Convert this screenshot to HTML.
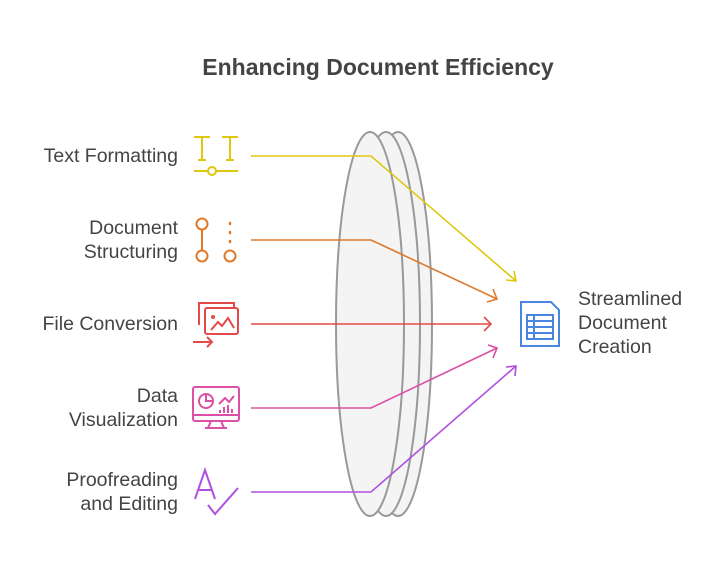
<!DOCTYPE html>
<html><head><style>
body{margin:0;background:#fff;}
svg text{font-family:"Liberation Sans",sans-serif;}
</style></head><body>
<svg width="720" height="564" viewBox="0 0 720 564" xmlns="http://www.w3.org/2000/svg">
<text x="378" y="75" text-anchor="middle" font-size="23" font-weight="bold" fill="#444">Enhancing Document Efficiency</text>
<g fill="#f4f4f4" stroke="#999" stroke-width="2">
<ellipse cx="398" cy="324" rx="34" ry="192"/>
<ellipse cx="386" cy="324" rx="34" ry="192"/>
<ellipse cx="370" cy="324" rx="34" ry="192"/>
</g>
<g fill="none" stroke-width="1.6">
<path d="M251 156H371L516 281" stroke="#e0c70f"/><path d="M506 280L516 281L514 271" stroke="#e0c70f"/>
<path d="M251 240H371L497 299" stroke="#e07a2a"/><path d="M487 302L497 299L493 289" stroke="#e07a2a"/>
<path d="M251 324H491" stroke="#e34a4a"/><path d="M484 317L491 324L484 331" stroke="#e34a4a"/>
<path d="M251 408H371L497 348" stroke="#dc4fa6"/><path d="M488 345L497 348L493 358" stroke="#dc4fa6"/>
<path d="M251 492H371L516 366" stroke="#b050e0"/><path d="M506 367L516 366L515 376" stroke="#b050e0"/>
</g>
<g font-size="19.5" fill="#444" text-anchor="end">
<text x="178" y="162">Text Formatting</text>
<text x="178" y="234">Document</text><text x="178" y="258">Structuring</text>
<text x="178" y="330">File Conversion</text>
<text x="178" y="402">Data</text><text x="178" y="426">Visualization</text>
<text x="178" y="486">Proofreading</text><text x="178" y="510">and Editing</text>
</g>
<g font-size="19.5" fill="#444">
<text x="578" y="305">Streamlined</text><text x="578" y="329">Document</text><text x="578" y="353">Creation</text>
</g>
<g fill="none" stroke="#e0c70f" stroke-width="2">
<path d="M194 137H210M202 137V160M198 160H206M222 137H238M230 137V160M226 160H234M194 171H208M216 171H238"/><circle cx="212" cy="171" r="4"/>
</g>
<g fill="none" stroke="#e07a2a" stroke-width="2">
<circle cx="202" cy="224" r="5.5"/><circle cx="202" cy="256" r="5.5"/><path d="M202 230V250"/><circle cx="230" cy="256" r="5.5"/>
<path d="M230 223v1M230 232v1M230 241v1" stroke-width="2.5" stroke-linecap="round"/>
</g>
<g fill="none" stroke="#e34a4a" stroke-width="2">
<path d="M199 325V303H234V307"/><rect x="205" y="308" width="33" height="26" rx="2"/><circle cx="213" cy="317" r="1"/>
<path d="M211 330L218 322L222 326L228 318L234 328M193 342H212M207 337L212 342L207 347"/>
</g>
<g fill="none" stroke="#dc4fa6" stroke-width="2">
<rect x="193" y="387" width="46" height="34" rx="2"/><path d="M193 415H239M211 421L208 428M221 421L224 428M205 428H227"/>
<circle cx="206" cy="401" r="7"/><path d="M206 394V401H213M219 404L225 398L229 402L234 396M220 413V410M224 413V407M228 413V405M232 413V409"/>
</g>
<g fill="none" stroke="#b050e0" stroke-width="2">
<path d="M195 499L205 470L215 499M198 490H212M208 505L215 514L238 488"/>
</g>
<g fill="none" stroke="#4a86e0" stroke-width="2">
<path d="M521 302H551L559 310V346H521Z"/>
<rect x="527" y="315" width="26" height="24"/><path d="M527 321H553M527 327H553M527 333H553M534 315V339"/>
</g>
</svg>
</body></html>
